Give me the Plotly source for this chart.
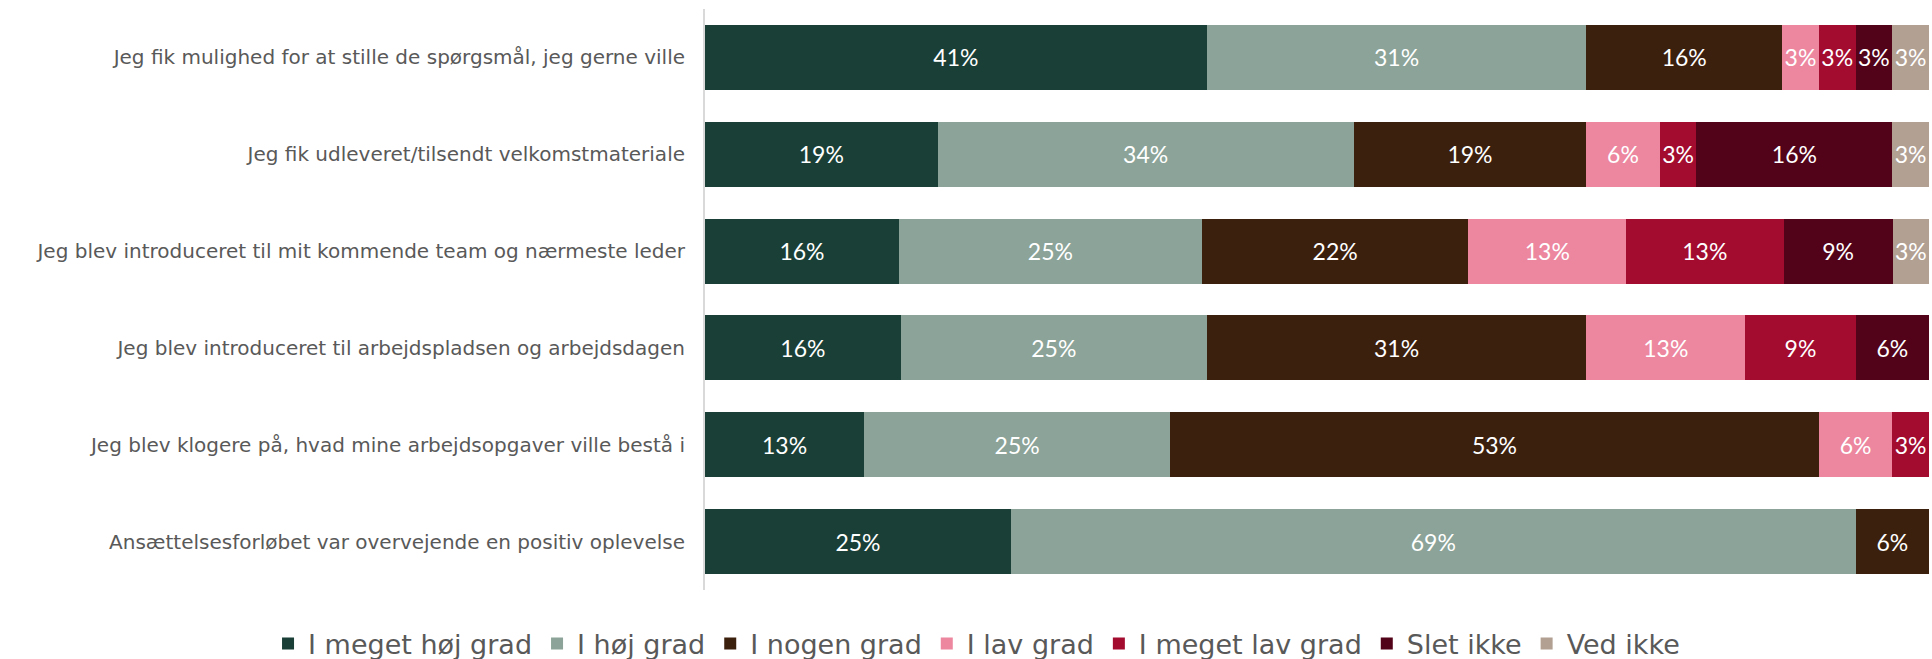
import plotly.graph_objects as go

# Survey statements (top to bottom)
statements = [
    "Jeg fik mulighed for at stille de spørgsmål, jeg gerne ville",
    "Jeg fik udleveret/tilsendt velkomstmateriale",
    "Jeg blev introduceret til mit kommende team og nærmeste leder",
    "Jeg blev introduceret til arbejdspladsen og arbejdsdagen",
    "Jeg blev klogere på, hvad mine arbejdsopgaver ville bestå i",
    "Ansættelsesforløbet var overvejende en positiv oplevelse",
]

# Response categories and their shares (%) per statement
categories = ["I meget høj grad", "I høj grad", "I nogen grad", "I lav grad",
              "I meget lav grad", "Slet ikke", "Ved ikke"]

meget_hoj = [41, 19, 16, 16, 13, 25]
hoj = [31, 34, 25, 25, 25, 69]
nogen = [16, 19, 22, 31, 53, 6]
lav = [3, 6, 13, 13, 6, 0]
meget_lav = [3, 3, 13, 9, 3, 0]
slet_ikke = [3, 16, 9, 6, 0, 0]
ved_ikke = [3, 3, 3, 0, 0, 0]

series = [meget_hoj, hoj, nogen, lav, meget_lav, slet_ikke, ved_ikke]
colors = ["#1a3f37", "#8ba398", "#3c200e", "#ec879f", "#a30b2f", "#520319", "#b2a093"]

TEXT_FONT = "DejaVu Sans"
VALUE_FONT = "Lato"
TEXT_GREY = "#595959"

fig = go.Figure()
for name, vals, col in zip(categories, series, colors):
    fig.add_trace(go.Bar(
        name=name,
        y=statements,
        x=vals,
        orientation="h",
        marker=dict(color=col, line=dict(width=0)),
        text=[f"{v}%" if v else "" for v in vals],
        textposition="inside",
        insidetextanchor="middle",
        textangle=0,
        textfont=dict(family=VALUE_FONT, size=23, color="white"),
        hoverinfo="skip",
    ))

fig.update_layout(
    width=1932,
    height=659,
    barmode="stack",
    barnorm="percent",
    bargap=0.33,
    plot_bgcolor="white",
    paper_bgcolor="white",
    margin=dict(l=705, r=3, t=9, b=69, autoexpand=False),
    uniformtext=dict(minsize=23, mode="show"),
    font=dict(family=TEXT_FONT, color=TEXT_GREY),
    xaxis=dict(range=[0, 100], visible=False, fixedrange=True),
    yaxis=dict(
        categoryorder="array",
        categoryarray=statements,
        autorange="reversed",
        showline=True,
        linecolor="#d9d9d9",
        linewidth=2,
        showgrid=False,
        ticks="",
        ticklabelstandoff=14,
        tickfont=dict(family=TEXT_FONT, size=20, color=TEXT_GREY),
    ),
    legend=dict(
        orientation="h",
        traceorder="normal",
        x=-0.357,
        xanchor="left",
        y=-0.093,
        yanchor="middle",
        font=dict(family=TEXT_FONT, size=27, color=TEXT_GREY),
    ),
)

fig.write_html("out.html")
